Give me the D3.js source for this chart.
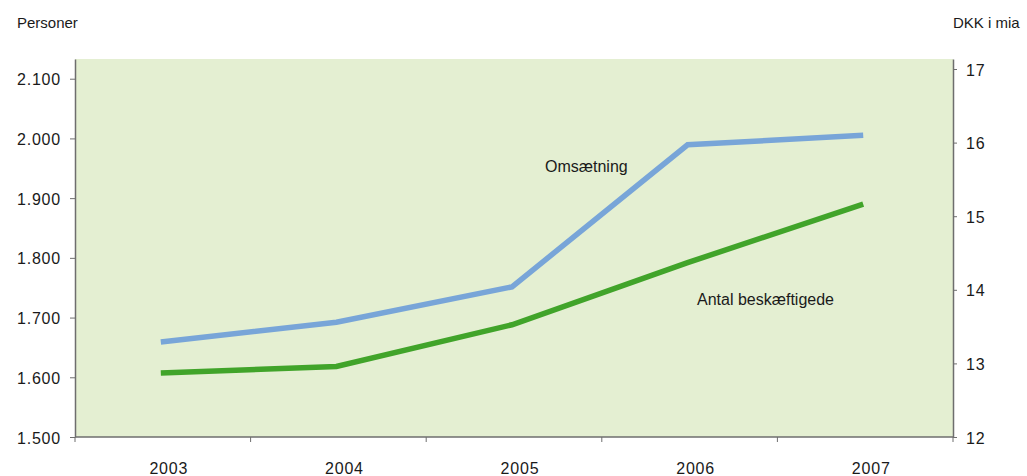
<!DOCTYPE html>
<html>
<head>
<meta charset="utf-8">
<script src="https://cdn.jsdelivr.net/npm/d3@7"></script>
<style>
  html, body { margin: 0; padding: 0; background: #ffffff; }
  svg { display: block; }
  text { font-family: "Liberation Sans", Arial, sans-serif; fill: #1a1a1a; }
</style>
</head>
<body>
<svg id="chart" width="1027" height="476"></svg>
<script>
// Years on the x axis
const years = ["2003", "2004", "2005", "2006", "2007"];
// Antal beskæftigede (personer, venstre akse)
const employees = [1607, 1618, 1688, 1792, 1890];
// Omsætning (DKK i mia, højre akse)
const turnover = [13.29, 13.56, 14.04, 15.97, 16.1];
// Tick values
const leftTicks = [1500, 1600, 1700, 1800, 1900, 2000, 2100];
const rightTicks = [12, 13, 14, 15, 16, 17];

const svg = d3.select("#chart");
const plot = { left: 75, right: 953, top: 59, bottom: 437 };
const axisColor = "#6e6e6e";

const x = d3.scaleBand().domain(years).range([plot.left, plot.right]);
const yLeft = d3.scaleLinear().domain([1500, 2133]).range([plot.bottom, plot.top]);
const yRight = d3.scaleLinear().domain([12, 17.136]).range([plot.bottom, plot.top]);

// Plot background
svg.append("rect")
  .attr("x", plot.left).attr("y", plot.top)
  .attr("width", plot.right - plot.left).attr("height", plot.bottom - plot.top)
  .attr("fill", "#e4efd2");

const fmt = d => d3.format(",")(d).replace(/,/g, ".");

// Left axis
const gl = svg.append("g").attr("transform", `translate(${plot.left},0)`)
  .call(d3.axisLeft(yLeft).tickValues(leftTicks).tickFormat(fmt).tickSize(5).tickSizeOuter(0));
// Right axis
const gr = svg.append("g").attr("transform", `translate(${plot.right},0)`)
  .call(d3.axisRight(yRight).tickValues(rightTicks).tickFormat(d3.format("d")).tickSize(4).tickSizeOuter(0));
// Bottom axis: ticks at band boundaries
const boundaries = years.map(y => x(y)).concat([plot.right]);
const gb = svg.append("g").attr("transform", `translate(0,${plot.bottom})`);
gb.append("line").attr("x1", plot.left).attr("x2", plot.right)
  .attr("stroke", axisColor).attr("stroke-width", 1.5);
gb.selectAll("line.tick").data(boundaries).join("line")
  .attr("class", "tick")
  .attr("x1", d => d).attr("x2", d => d).attr("y1", 0).attr("y2", 5)
  .attr("stroke", axisColor).attr("stroke-width", 1);
gb.selectAll("text").data(years).join("text")
  .attr("x", d => x(d) + x.bandwidth() / 2 + 6)
  .attr("y", 37)
  .attr("text-anchor", "middle")
  .style("font-size", "16px")
  .style("letter-spacing", "0.8px")
  .text(d => d);

[gl, gr].forEach(g => {
  g.select(".domain").attr("stroke", axisColor).attr("stroke-width", 1.5);
  g.selectAll(".tick line").attr("stroke", axisColor);
  g.selectAll(".tick text")
    .style("font-size", "16px")
    .style("letter-spacing", "0.8px")
    .attr("fill", "#1a1a1a");
});
gl.selectAll(".tick text").attr("x", -14).attr("dy", "0.38em");
gr.selectAll(".tick text").attr("x", 13).attr("dy", "0.38em");

// Lines
const lineLeft = d3.line()
  .x((d, i) => x(years[i]) + x.bandwidth() / 2 - 2)
  .y(d => yLeft(d));
const lineRight = d3.line()
  .x((d, i) => x(years[i]) + x.bandwidth() / 2 - 2)
  .y(d => yRight(d));

svg.append("path").datum(turnover)
  .attr("d", lineRight)
  .attr("fill", "none").attr("stroke", "#78a5d8").attr("stroke-width", 5.5)
  .attr("stroke-linejoin", "miter");
svg.append("path").datum(employees)
  .attr("d", lineLeft)
  .attr("fill", "none").attr("stroke", "#41a42a").attr("stroke-width", 5.5)
  .attr("stroke-linejoin", "miter");

// Axis titles
svg.append("text").attr("x", 17).attr("y", 28)
  .style("font-size", "15px").text("Personer");
svg.append("text").attr("x", 953).attr("y", 28)
  .style("font-size", "15px").text("DKK i mia");

// Series labels
svg.append("text").attr("x", 545).attr("y", 172)
  .style("font-size", "16px").text("Omsætning");
svg.append("text").attr("x", 697).attr("y", 305)
  .style("font-size", "16px").text("Antal beskæftigede");
</script>
</body>
</html>
